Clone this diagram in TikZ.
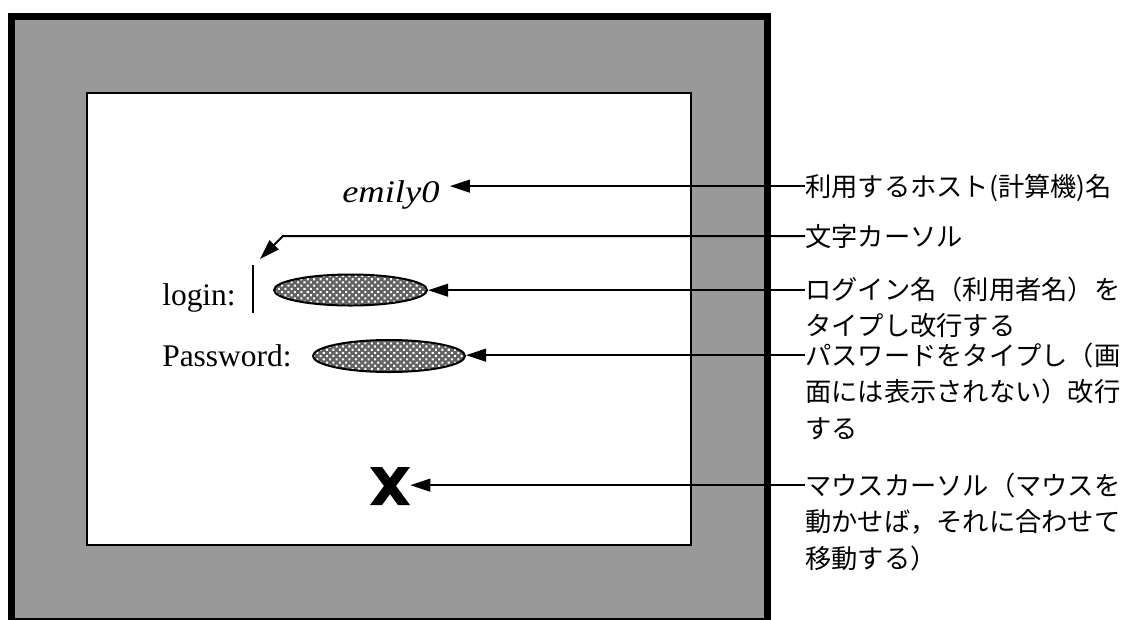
\documentclass[tikz,border=0pt]{standalone}
\usepackage{fontspec}
\setmainfont{Liberation Serif}
\newfontfamily\jfont{Noto Sans CJK JP}
\usetikzlibrary{arrows.meta,patterns.meta,shapes.geometric}
\definecolor{framegray}{RGB}{153,153,153}
\begin{document}
\begin{tikzpicture}[x=0.75pt,y=-0.75pt,
  conn/.style={line width=1.5pt,-{Triangle[length=15pt,width=9.5pt]}},
  jlabel/.style={font=\jfont\fontsize{19.7pt}{27.4pt}\selectfont, inner sep=0pt, anchor=base west},
  serif/.style={font=\fontsize{23.6pt}{28pt}\selectfont, inner sep=0pt, anchor=base west},
  hatch/.style={ellipse, draw, line width=1.5pt, inner sep=0pt, preaction={fill=black!62}, pattern={Dots[distance=3.4pt,radius=1.1pt,angle=45]}, pattern color=white}]
\useasboundingbox (0,0) rectangle (1127,619);
\fill[white] (0,0) rectangle (1127,619);
% screen frame
\draw[fill=framegray, line width=5.25pt] (11.5,16.5) rectangle (767.5,621);
\draw[fill=white, line width=1.5pt] (87,93) rectangle (691,545);
% screen contents
\node[serif] (em) at (342,202) {\scalebox{1.16}[1]{\itshape emily0}};
\node[serif] (login) at (162,305) {login:};
\node[serif] (pass) at (162,366) {Password:};
\coordinate (bartop) at (253,265);
\coordinate (barbot) at (253,313);
\draw[line width=1.5pt] (bartop) -- (barbot);
\coordinate (curtip) at (260,259);
\node[hatch, minimum width=114.75pt, minimum height=23.25pt] (lfield) at (350.5,290) {};
\node[hatch, minimum width=114pt, minimum height=24pt] (pfield) at (389,356) {};
\node[minimum width=30pt, minimum height=28.5pt, inner sep=0pt] (mouse) at (390,486) {};
\fill[shift={(mouse.center)}] (-20,-19) -- (-8,-19) -- (0,-8.1) -- (8,-19) -- (20,-19) -- (6,0) -- (20,19) -- (8,19) -- (0,8.1) -- (-8,19) -- (-20,19) -- (-6,0) -- cycle;
% labels
\node[jlabel] (l1) at (805,196) {利用するホスト(計算機)名};
\node[jlabel] (l2) at (805,246) {文字カーソル};
\node[jlabel] (l3) at (805,299) {\vtop{\hbox{ログイン名（利用者名）を}\hbox{タイプし改行する}}};
\node[jlabel] (l4) at (805,365) {\vtop{\hbox{パスワードをタイプし（画}\hbox{面には表示されない）改行}\hbox{する}}};
\node[jlabel] (l5) at (805,495) {\vtop{\hbox{マウスカーソル（マウスを}\hbox{動かせば，それに合わせて}\hbox{移動する）}}};
\coordinate (c1) at ([yshift=7.4pt]l1.base west);
\coordinate (c2) at ([yshift=7.4pt]l2.base west);
\coordinate (c3) at ([yshift=6.6pt]l3.base west);
\coordinate (c4) at ([yshift=7.4pt]l4.base west);
\coordinate (c5) at ([yshift=7.4pt]l5.base west);
\coordinate (k2) at (283,236);
\coordinate (emtip) at ([xshift=7.5pt]em.east);
% connectors
\draw[conn] (c1) -- (c1 -| emtip);
\draw[conn] (c2) -- (k2) -- (curtip);
\draw[conn] (c3) -- (c3 -| lfield.east);
\draw[conn] (c4) -- (c4 -| pfield.east);
\draw[conn] (c5) -- (c5 -| mouse.east);
\end{tikzpicture}
\end{document}
